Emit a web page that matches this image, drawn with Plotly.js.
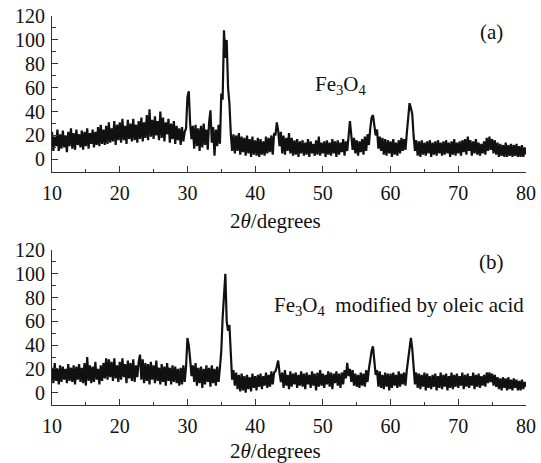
<!DOCTYPE html>
<html>
<head>
<meta charset="utf-8">
<script src="https://cdn.plot.ly/plotly-3.0.1.min.js"></script>
<style>html,body{margin:0;padding:0;background:#fff}#chart{width:541px;height:463px}</style>
</head>
<body>
<div id="chart"></div>
<script>
// 2θ sampling: start 10°, step 0.2°
const twoThetaStart = 10;
const twoThetaStep = 0.2;

// Panel (a): Fe3O4 intensity, one row per degree (5 samples)
const intensityA = [
23,7,19,11,25,
7,21,9,24,10,
20,6,23,11,26,
9,22,8,25,12,
21,10,24,8,23,
11,26,9,22,13,
25,10,23,12,27,
11,29,13,25,12,
28,13,31,14,26,
15,32,12,29,16,
31,14,34,16,28,
13,33,17,30,15,
34,16,29,14,32,
17,35,15,31,18,
37,16,42,19,33,
17,36,20,32,16,
40,18,35,15,31,
21,34,14,30,17,
32,13,28,16,26,
12,27,15,23,26,
52,57,30,17,28,
9,29,11,26,7,
28,10,30,12,25,
8,31,41,14,27,
3,25,11,29,13,
55,50,108,85,100,
60,47,22,7,21,
5,20,7,22,4,
19,6,18,3,20,
5,17,2,19,4,
16,3,18,2,17,
4,15,3,19,5,
18,6,20,4,22,
20,31,24,11,23,
5,20,4,18,7,
22,5,18,3,16,
4,17,2,15,5,
16,3,14,4,17,
2,15,5,13,3,
16,4,19,3,14,
5,15,2,16,4,
14,3,17,5,15,
2,16,4,14,6,
17,3,15,7,24,
32,20,8,18,5,
16,3,15,6,17,
4,19,7,21,12,
26,35,37,28,20,
25,9,19,7,18,
4,17,3,16,5,
15,2,17,4,14,
3,16,5,18,7,
17,8,22,35,47,
43,38,20,7,16,
3,15,2,16,4,
14,3,15,5,16,
2,14,4,15,3,
16,5,14,3,15,
4,16,5,14,2,
15,4,17,3,14,
5,15,3,16,6,
17,4,19,7,16,
3,15,5,17,4,
14,3,13,5,15,
4,18,7,19,8,
17,5,16,4,14,
2,13,3,12,2,
14,2,12,3,13,
2,12,3,13,2,
11,2,12,2,10,
4
];

// Panel (b): Fe3O4 modified by oleic acid
const intensityB = [
21,8,25,10,20,
7,23,9,22,11,
20,8,24,10,21,
9,23,7,22,11,
24,9,21,8,25,
6,30,10,23,8,
22,9,26,11,20,
7,23,10,25,12,
29,11,28,13,26,
10,29,12,23,9,
26,11,29,13,24,
8,27,12,25,10,
28,9,23,13,26,
32,11,28,8,25,
10,24,7,26,11,
23,8,27,10,21,
7,24,9,22,6,
25,10,21,7,23,
9,22,8,20,6,
21,7,23,9,22,
46,40,28,14,23,
9,25,6,21,8,
22,4,20,7,23,
9,21,5,23,8,
20,6,22,9,21,
35,63,82,100,60,
52,57,30,11,19,
6,17,3,15,1,
16,2,14,0,15,
3,13,1,16,4,
14,2,15,5,16,
3,14,6,17,4,
15,5,18,7,17,
18,22,27,17,9,
17,4,19,6,15,
3,18,5,16,7,
17,4,15,6,18,
5,16,3,17,7,
15,4,18,6,16,
2,17,5,19,6,
16,4,15,7,18,
5,17,3,16,8,
18,6,16,4,17,
7,19,12,25,14,
20,9,19,6,16,
5,15,4,17,6,
16,5,19,9,20,
28,35,39,26,15,
19,5,18,4,15,
3,17,5,16,2,
16,4,17,6,15,
4,18,5,16,7,
17,6,19,28,40,
46,37,20,7,17,
4,16,3,15,5,
17,2,16,4,14,
3,15,5,16,2,
14,4,17,3,15,
5,16,2,14,4,
17,3,15,5,16,
4,14,6,17,3,
15,5,16,4,14,
6,17,3,15,5,
16,4,14,6,15,
5,17,8,17,9,
16,6,15,5,13,
3,12,2,13,4,
12,2,13,3,11,
2,12,4,11,2,
10,2,11,3,9,
5
];

const xTickVals = [10,20,30,40,50,60,70,80];
const yTickVals = [0,20,40,60,80,100,120];
const axisTitle = "2<i>θ</i>/degrees";
const labelA = "(a)";
const labelB = "(b)";
const sampleA = "Fe<sub>3</sub>O<sub>4</sub>";
const sampleB = "Fe<sub>3</sub>O<sub>4</sub>  modified by oleic acid";

const twoTheta = intensityA.map((_, i) => +(twoThetaStart + i * twoThetaStep).toFixed(2));

const family = "Liberation Serif";
const tickFont = {family: family, size: 20, color: "#111"};
const textFont = {family: family, size: 21, color: "#111"};
const lineStyle = {color: "#111", width: 2.2};

function xAxis(anchor) {
  return {
    anchor: anchor, range: [10, 80], tickvals: xTickVals,
    showline: true, linecolor: "#333", linewidth: 1,
    ticks: "inside", ticklen: 6, tickcolor: "#333", tickwidth: 1,
    minor: {dtick: 5, tick0: 0, ticks: "inside", ticklen: 3, tickcolor: "#333"},
    showgrid: false, zeroline: false, tickfont: tickFont, ticklabelstandoff: 3
  };
}
function yAxis(anchor, domain, lo) {
  return {
    anchor: anchor, domain: domain, range: [lo, 120], tickvals: yTickVals,
    showline: true, linecolor: "#333", linewidth: 1,
    ticks: "inside", ticklen: 6, tickcolor: "#333", tickwidth: 1,
    minor: {dtick: 10, tick0: 0, ticks: "inside", ticklen: 4, tickcolor: "#333"},
    showgrid: false, zeroline: false, tickfont: tickFont, ticklabelstandoff: 2
  };
}

const data = [
  {x: twoTheta, y: intensityA, xaxis: "x", yaxis: "y", mode: "lines", line: lineStyle, hoverinfo: "skip"},
  {x: twoTheta, y: intensityB, xaxis: "x2", yaxis: "y2", mode: "lines", line: lineStyle, hoverinfo: "skip"}
];

const ann = (text, x, xref, y) => ({text: text, x: x, xref: xref, y: y, yref: "paper",
  showarrow: false, font: textFont, xanchor: "center", yanchor: "middle"});

const layout = {
  width: 541, height: 463,
  margin: {l: 52, r: 15, t: 0, b: 0},
  paper_bgcolor: "#fff", plot_bgcolor: "#fff",
  showlegend: false,
  font: tickFont,
  xaxis: xAxis("y"),
  yaxis: yAxis("x", [0.6285, 0.9654], -10.6),
  xaxis2: xAxis("y2"),
  yaxis2: yAxis("x2", [0.1259, 0.4600], -10.1),
  annotations: [
    ann(labelA, 74.9, "x", 0.931),
    ann(sampleA, 52.7, "x", 0.816),
    ann(axisTitle, 43.0, "x", 0.523),
    ann(labelB, 74.9, "x2", 0.434),
    ann(sampleB, 61.3, "x2", 0.339),
    ann(axisTitle, 43.0, "x2", 0.026)
  ]
};

Plotly.newPlot("chart", data, layout, {staticPlot: true, displayModeBar: false});
</script>
</body>
</html>
